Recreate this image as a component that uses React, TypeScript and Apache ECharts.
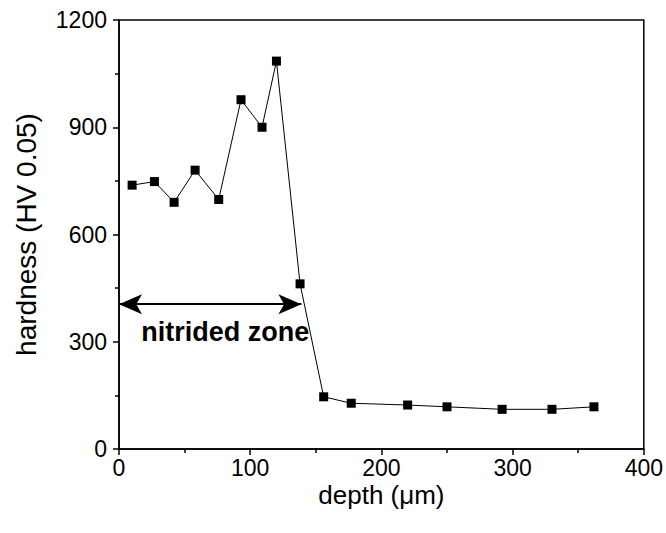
import React, { useEffect, useRef } from "react";
import * as echarts from "echarts";

const depth = [10, 27, 42, 58, 76, 93, 109, 120, 138, 156, 177, 220, 250, 292, 330, 362];
const hardness = [738, 748, 690, 780, 698, 977, 900, 1085, 462, 146, 128, 123, 118, 111, 111, 118];
const zoneStart = 0;
const zoneEnd = 139;
const zoneLevel = 405;
const zoneLabel = "nitrided zone";
const zoneLabelPos = [81, 328];
const xTitle = "depth (\u03bcm)";
const yTitle = "hardness (HV 0.05)";

const FONT = "'Liberation Sans', Arial, sans-serif";

export default function App() {
  const ref = useRef<HTMLDivElement>(null);
  useEffect(() => {
    if (!ref.current) return;
    const chart = echarts.init(ref.current, undefined, { renderer: "svg" });
    const axisCommon = {
      axisLine: { show: true, lineStyle: { color: "#000", width: 1.5 } },
      axisTick: { show: true, inside: false, length: 6, lineStyle: { color: "#000", width: 1.5 } },
      minorTick: { show: true, splitNumber: 2, length: 4, lineStyle: { color: "#000", width: 1.5 } },
      splitLine: { show: false },
      nameMoveOverlap: false,
    };
    chart.setOption({
      animation: false,
      backgroundColor: "#fff",
      grid: {
        left: 119,
        right: 22,
        top: 20,
        bottom: 84,
        show: true,
        borderColor: "#000",
        borderWidth: 1.5,
        backgroundColor: "transparent",
      },
      xAxis: {
        type: "value",
        min: 0,
        max: 400,
        interval: 100,
        name: xTitle,
        nameLocation: "middle",
        nameGap: 33,
        nameTextStyle: { color: "#000", fontFamily: FONT, fontSize: 26 },
        ...axisCommon,
        axisLabel: { color: "#000", fontFamily: FONT, fontSize: 23, margin: 7 },
      },
      yAxis: {
        type: "value",
        min: 0,
        max: 1200,
        interval: 300,
        name: yTitle,
        nameLocation: "middle",
        nameGap: 79,
        nameTextStyle: { color: "#000", fontFamily: FONT, fontSize: 28 },
        ...axisCommon,
        axisLabel: {
          color: "#000",
          fontFamily: FONT,
          fontSize: 23,
          margin: 12,
          formatter: (v: number) => String(v),
        },
      },
      series: [
        {
          type: "line",
          data: depth.map((d, i) => [d, hardness[i]]),
          symbol: "rect",
          symbolSize: 9,
          showAllSymbol: true,
          lineStyle: { color: "#000", width: 1 },
          itemStyle: { color: "#000" },
          markLine: {
            silent: true,
            symbol: ["arrow", "arrow"],
            symbolSize: [15, 23],
            lineStyle: { color: "#000", width: 2, type: "solid" },
            label: { show: false },
            data: [[{ coord: [zoneStart, zoneLevel] }, { coord: [zoneEnd, zoneLevel] }]],
          },
          markPoint: {
            silent: true,
            symbol: "rect",
            symbolSize: 0,
            data: [
              {
                coord: zoneLabelPos,
                label: {
                  show: true,
                  position: "inside",
                  formatter: zoneLabel,
                  color: "#000",
                  fontFamily: FONT,
                  fontWeight: "bold",
                  fontSize: 27,
                },
              },
            ],
          },
        },
      ],
    });
    return () => chart.dispose();
  }, []);
  return (
    <div
      ref={ref}
      style={{ position: "absolute", left: 0, top: 0, width: 666, height: 533 }}
    />
  );
}
